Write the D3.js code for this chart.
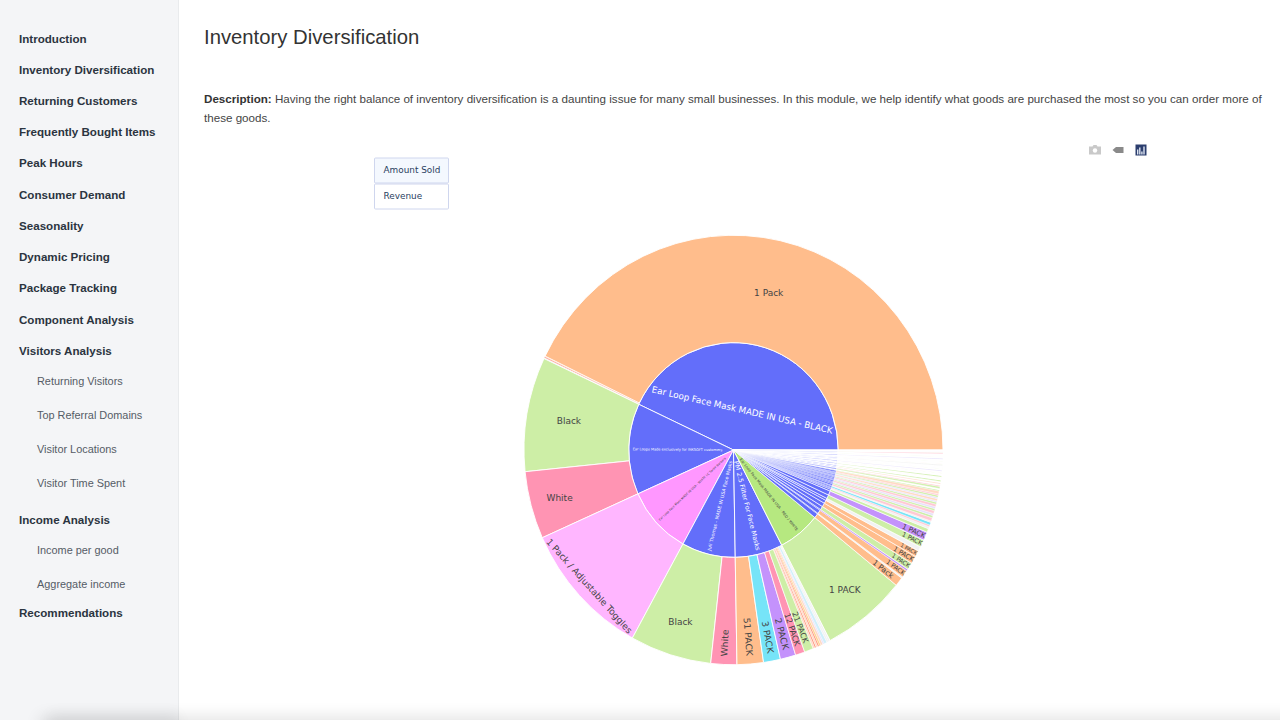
<!DOCTYPE html>
<html>
<head>
<meta charset="utf-8">
<script src="https://cdn.jsdelivr.net/npm/d3@7"></script>
<style>
  body { margin: 0; background: #fff; overflow: hidden; }
</style>
</head>
<body>
<script>
const navItems = ["Introduction", "Inventory Diversification", "Returning Customers", "Frequently Bought Items", "Peak Hours", "Consumer Demand", "Seasonality", "Dynamic Pricing", "Package Tracking", "Component Analysis", "Visitors Analysis", "Income Analysis", "Recommendations"];
const navSubItems = ["Returning Visitors", "Top Referral Domains", "Visitor Locations", "Visitor Time Spent", "Income per good", "Aggregate income"];
const buttonLabels = ["Amount Sold", "Revenue"];

// main products, going counter clockwise from 3 o'clock
const products = ["Ear Loop Face Mask MADE IN USA - BLACK", "Ear Loops Made exclusively for INKSOFT customers", "Ear Loop Face Mask MADE IN USA - WHITE LC Sante Barbara", "Juli Thomas - MADE IN USA Face Masks", "PM 2.5 Filter For Face Masks", "Ear Loop Face Mask MADE IN USA - RED / WHITE"];
const variantNames = [
  ["1 Pack", "5 Pack", "10 Pack", "25 Pack"],
  ["Black", "White"],
  ["1 Pack / Adjustable Toggles"],
  ["Black", "White"],
  ["51 PACK", "3 PACK", "2 PACK", "12 PACK", "21 PACK", "5 PACK", "6 PACK", "7 PACK", "8 PACK", "9 PACK", "10 PACK", "15 PACK", "25 PACK", "30 PACK", "50 PACK"],
  ["1 PACK"]
];
const variantValues = [
  [1540, 2, 3, 2],
  [310, 183],
  [370],
  [226, 72],
  [73, 47, 43, 26, 25, 5, 4, 5, 4, 5, 6, 4, 8, 5, 5],
  [235]
];
const variantHues = [
  ["o", "n", "d", "l"],
  ["g", "r"],
  ["m"],
  ["g", "r"],
  ["o", "c", "p", "r", "g", "n", "d", "n", "d", "y", "n", "l", "b", "w", "w"],
  ["g"]
];

// the long tail of small goods, one variant each
const tailValues = [24, 4, 20, 5, 19, 21, 17, 12, 20, 23, 10, 6, 5, 7, 4, 9, 6, 6, 8, 5, 6, 7, 5, 4, 6, 4, 5, 4, 8, 4, 3, 5, 4, 3, 4, 3, 4, 3, 3, 2, 4, 3, 3, 2, 3, 4, 3, 2, 3, 3, 4, 2, 3, 3, 3, 2, 4, 3, 2, 3, 3, 4, 3, 3];
const tailHues = ["o", "w", "o", "p", "g", "o", "o", "w", "g", "p", "g", "w", "k", "c", "w", "k", "g", "l", "k", "g", "l", "k", "g", "l", "n", "l", "g", "k", "n", "g", "l", "g", "k", "l", "n", "g", "g", "l", "k", "n", "g", "l", "w", "g", "k", "l", "n", "g", "l", "k", "w", "g", "n", "l", "g", "k", "l", "w", "n", "g", "l", "k", "g", "l"];

const hueColors = { o: "#FFBD8C", g: "#CDEEA6", m: "#FFB6FF", r: "#FF94B3", p: "#C492FC", c: "#76E4F8", d: "#FF8A70", l: "#E6E0FB", w: "#F2F2F2", n: "#FFD9C4", k: "#FFC9D4", y: "#FFCF8A", b: "#CFEFFA" };
const rootColors = { "Ear Loop Face Mask MADE IN USA - WHITE LC Sante Barbara": "#FF97FF", "Ear Loop Face Mask MADE IN USA - RED / WHITE": "#B6E880" };

const svg = d3.select("body").append("svg").attr("width", 1280).attr("height", 720).style("display", "block");
const sans = "'Liberation Sans', Arial, sans-serif";
const plotFont = "'DejaVu Sans', Verdana, sans-serif";

// blurred shadow along the bottom
const defs = svg.append("defs");
defs.append("filter").attr("id", "soft").attr("x", "-10%").attr("y", "-200%").attr("width", "120%").attr("height", "500%")
  .append("feGaussianBlur").attr("stdDeviation", 8);

// sidebar
svg.append("rect").attr("width", 178).attr("height", 720).attr("fill", "#f4f5f7");
svg.append("rect").attr("x", 178).attr("width", 1).attr("height", 720).attr("fill", "#e9ebed");

const navY = [39, 70, 101, 132, 163, 195, 226, 257, 288, 320, 351, 520, 613];
const navSubY = [381, 415, 449, 483, 550, 584];

svg.selectAll(".nav").data(navItems).enter().append("text")
  .attr("class", "nav")
  .attr("x", 19)
  .attr("y", (d, i) => navY[i] - 0.5)
  .attr("dy", "0.35em")
  .style("font", "bold 11.6px " + sans)
  .attr("fill", "#2b3440")
  .text(d => d);

svg.selectAll(".sub").data(navSubItems).enter().append("text")
  .attr("class", "sub")
  .attr("x", 37)
  .attr("y", (d, i) => navSubY[i] + 0.5)
  .attr("dy", "0.35em")
  .style("font", "10.9px " + sans)
  .attr("fill", "#555c66")
  .text(d => d);

// header
svg.append("text").attr("x", 204).attr("y", 37).attr("dy", "0.35em")
  .style("font", "20.3px " + sans).attr("fill", "#333").text("Inventory Diversification");

const desc = svg.append("text").attr("x", 204).attr("y", 99).attr("dy", "0.35em")
  .style("font", "11.62px " + sans).attr("fill", "#444");
desc.append("tspan").style("font-weight", "bold").attr("fill", "#333").text("Description:");
desc.append("tspan").text(" Having the right balance of inventory diversification is a daunting issue for many small businesses. In this module, we help identify what goods are purchased the most so you can order more of");
svg.append("text").attr("x", 204).attr("y", 118).attr("dy", "0.35em")
  .style("font", "11.62px " + sans).attr("fill", "#444").text("these goods.");

// plotly style buttons
const btn = svg.selectAll(".btn").data(buttonLabels).enter().append("g")
  .attr("class", "btn")
  .attr("transform", (d, i) => `translate(374.5,${158 + i * 26})`);
btn.append("rect").attr("width", 74).attr("height", 25).attr("rx", 1)
  .attr("fill", (d, i) => i == 0 ? "#f4f8fe" : "#fff")
  .attr("stroke", "#cfd6ee");
btn.append("text").attr("x", 9).attr("y", 12).attr("dy", "0.35em")
  .style("font", "8.9px " + plotFont).attr("fill", "#2a3f5f").text(d => d);

// modebar icons
const camera = svg.append("g").attr("transform", "translate(1095,150)").attr("fill", "#c9c9c9");
camera.append("path").attr("d", "M-6,-3.5 H-2.5 L-1.5,-5 H1.5 L2.5,-3.5 H6 V4.5 H-6 Z");
camera.append("circle").attr("r", 2.2).attr("cy", 0.5).attr("fill", "#fff");
svg.append("path").attr("transform", "translate(1118,150)").attr("fill", "#8a8a8a")
  .attr("d", "M-5.5,0 L-2,-3 H5.5 V3 H-2 Z");
const bars = svg.append("g").attr("transform", "translate(1135.5,144.5)");
bars.append("rect").attr("width", 11).attr("height", 11).attr("fill", "#2c3e6e");
bars.selectAll("rect.b").data([5, 3, 7, 2]).enter().append("rect").attr("class", "b")
  .attr("x", (d, i) => 1.5 + i * 2.1).attr("y", d => d).attr("width", 1.4).attr("height", d => 10 - d).attr("fill", "#dfe6f2");

// sunburst
const tree = {
  name: "root",
  children: products.map((p, i) => ({
    name: p,
    color: rootColors[p] || "#636EFA",
    children: variantNames[i].map((v, j) => ({ name: v, value: variantValues[i][j], color: hueColors[variantHues[i][j]] }))
  })).concat(tailValues.map((v, i) => ({
    name: "Item " + i,
    color: "#636EFA",
    tail: true,
    children: [{ name: i == 0 ? "1 Pack" : "1 PACK", value: v, color: hueColors[tailHues[i]], tail: true }]
  })))
};

const outerR = 209.5;
const root = d3.partition().size([2 * Math.PI, 3])(d3.hierarchy(tree).sum(d => d.value));
const radius = d3.scaleLinear().domain([1, 3]).range([0, outerR]);
const sweep = d => (d.x1 - d.x0) * 180 / Math.PI;

const arc = d3.arc()
  .startAngle(d => Math.PI / 2 - d.x0)
  .endAngle(d => Math.PI / 2 - d.x1)
  .innerRadius(d => radius(d.y0))
  .outerRadius(d => radius(d.y1));

const chart = svg.append("g").attr("transform", "translate(733.5,450) scale(1,1.025)");
const nodes = root.descendants().filter(d => d.depth > 0);

// the thinnest tail slices are nearly all outline, so they fade out to white
chart.selectAll("path.cell").data(nodes).enter().append("path")
  .attr("class", "cell")
  .attr("d", arc)
  .attr("fill", d => d.data.color)
  .attr("stroke", "#fff")
  .attr("stroke-width", d => {
    if (d.data.tail && sweep(d) < 0.36) return 1.1;
    if (sweep(d) < 1) return 0.35;
    return sweep(d) < 4 ? 0.65 : 0.9;
  });

function upright(rot) {
  while (rot < -90) rot += 180;
  while (rot > 90) rot -= 180;
  return rot;
}

const labels = chart.selectAll("text.lab")
  .data(nodes.filter(d => sweep(d) >= (d.depth == 1 ? 5 : 1.65)))
  .enter().append("text")
  .attr("class", "lab")
  .attr("text-anchor", "middle")
  .attr("dy", "0.35em")
  .style("font-family", plotFont)
  .style("font-size", "10px")
  .attr("fill", d => d.depth == 1 && d.data.color == "#636EFA" ? "#fff" : "#444")
  .text(d => d.data.name);

labels.each(function(d) {
  const t = d3.select(this);
  const len10 = this.getComputedTextLength();
  const deg = sweep(d);
  const mid = (d.x0 + d.x1) / 2;
  const radial = upright(-mid * 180 / Math.PI);
  let size, r, rot;

  if (d.depth == 1) {
    if (deg > 100) {
      size = 10 * 185 / len10; r = 40; rot = upright(radial + 90);
    } else {
      size = Math.min(8.5, 10 * 90 / len10); r = 56; rot = radial;
    }
  } else if (deg >= 15) {
    size = 9;
    if (len10 > 80) {
      r = 196; rot = upright(radial + 90);
    } else {
      r = deg > 100 ? 157 : (deg > 28 ? 167 : (deg < 20 ? 180 : 176)); rot = 0;
    }
  } else {
    size = Math.min(9, deg * 3.1);
    r = outerR - len10 * size / 20 - (deg > 2.4 ? 8 : 0);
    rot = radial;
  }

  t.style("font-size", size + "px")
    .attr("transform", `translate(${r * Math.cos(mid)},${-r * Math.sin(mid)}) rotate(${rot})`);
});

svg.append("rect").attr("x", 40).attr("y", 716).attr("width", 1300).attr("height", 24)
  .attr("fill", "#000").attr("opacity", 0.1).attr("filter", "url(#soft)");
svg.append("rect").attr("x", 50).attr("y", 714).attr("width", 128).attr("height", 24)
  .attr("fill", "#000").attr("opacity", 0.05).attr("filter", "url(#soft)");
</script>
</body>
</html>
